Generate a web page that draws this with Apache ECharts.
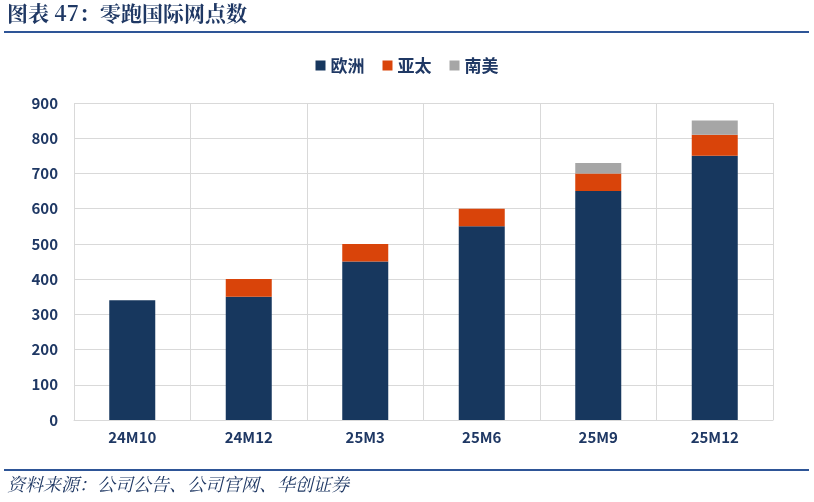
<!DOCTYPE html>
<html><head><meta charset="utf-8">
<script src="https://cdn.jsdelivr.net/npm/echarts@6/dist/echarts.min.js"></script>
<style>html,body{margin:0;padding:0;background:#fff}#c{width:814px;height:502px}</style>
</head><body><div id="c"></div>
<script>
const categories = ['24M10','24M12','25M3','25M6','25M9','25M12'];
const europe = [340, 350, 450, 550, 650, 750];
const asiaPacific = [0, 50, 50, 50, 50, 60];
const southAmerica = [0, 0, 0, 0, 30, 40];
const seriesNames = ['欧洲','亚太','南美'];
const yTicks = {min: 0, max: 900, interval: 100};

const chart = echarts.init(document.getElementById('c'));
const labelColor = '#1F3864';
const font = '"Noto Sans CJK SC", "Noto Sans", sans-serif';
chart.setOption({
  animation: false,
  backgroundColor: '#fff',
  textStyle: {fontFamily: font},
  color: ['#17375E', '#D9440A', '#A6A6A6'],
  legend: {
    top: 52, left: 'center', itemWidth: 10, itemHeight: 10, itemGap: 18,
    icon: 'rect',
    textStyle: {color: labelColor, fontSize: 17, fontWeight: 'bold', fontFamily: font},
    data: seriesNames
  },
  grid: {left: 74, right: 41, top: 103, bottom: 82},
  xAxis: {
    type: 'category', data: categories,
    axisLine: {lineStyle: {color: '#D9D9D9'}},
    axisTick: {show: false},
    splitLine: {show: true, lineStyle: {color: '#D9D9D9'}},
    axisLabel: {color: labelColor, fontSize: 15, fontWeight: 'bold', margin: 10, interval: 0}
  },
  yAxis: {
    type: 'value', min: yTicks.min, max: yTicks.max, interval: yTicks.interval,
    axisLine: {show: false}, axisTick: {show: false},
    splitLine: {lineStyle: {color: '#D9D9D9'}},
    axisLabel: {color: labelColor, fontSize: 15, fontWeight: 'bold', margin: 16}
  },
  series: [
    {name: seriesNames[0], type: 'bar', stack: 't', data: europe, barWidth: 46},
    {name: seriesNames[1], type: 'bar', stack: 't', data: asiaPacific, barWidth: 46},
    {name: seriesNames[2], type: 'bar', stack: 't', data: southAmerica, barWidth: 46}
  ],
  graphic: [
    {type: 'text', left: 7, top: 3, style: {text: '图表 47：零跑国际网点数', fill: '#1F3864', font: 'bold 21px "Noto Serif CJK SC", "DejaVu Serif", serif'}},
    {type: 'rect', shape: {x: 4, y: 31, width: 805, height: 2}, style: {fill: '#2E5597'}},
    {type: 'rect', shape: {x: 4, y: 469, width: 805, height: 2}, style: {fill: '#2E5597'}},
    {type: 'text', left: 7, top: 475, style: {text: '资料来源：公司公告、公司官网、华创证券', fill: '#1F3864', font: 'italic 18px "Noto Serif CJK SC", "DejaVu Serif", serif'}}
  ]
});
</script></body></html>
